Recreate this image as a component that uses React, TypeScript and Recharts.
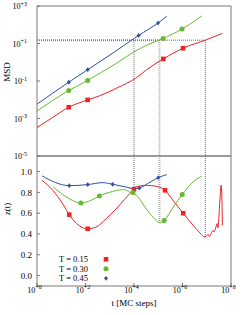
import React from 'react';
import { ComposedChart, Line, Scatter, XAxis, YAxis, ReferenceLine, Label } from 'recharts';

const FONT = '"Liberation Serif", "Times New Roman", serif';
const FRAME = '#787878';
const RED = '#ee2222';
const GREEN = '#66b833';
const BLUE = '#3050a0';

const temps = ['T = 0.15', 'T = 0.30', 'T = 0.45'];
const tTicks = [1, 1e2, 1e4, 1e6, 1e8];
const msdTicks = [1e-5, 1e-3, 1e-1, 1e1, 1e3];
const zTicks = [0, 0.2, 0.4, 0.6, 0.8, 1.0];

// MSD curves (top panel)
const redMsdT = [1, 4.47, 20.4, 123, 398, 1950, 12000, 33100, 162000, 1.05e6, 8.7e6, 4.4e7];
const redMsd = [3.3e-4, 1.15e-3, 4.0e-3, 9.8e-3, 1.66e-2, 4.2e-2, 0.145, 0.4, 1.51, 5.6, 15.1, 34.7];
const greenMsdT = [1, 20.4, 123, 398, 1950, 9333, 33100, 158000, 955000, 6.2e6];
const greenMsd = [2.5e-3, 3.1e-2, 0.107, 0.263, 0.91, 3.39, 8.1, 18.6, 58.9, 295];
const blueMsdT = [1, 20.4, 123, 1000, 15500, 97700, 224000];
const blueMsd = [5.75e-3, 8.7e-2, 0.4, 2.4, 26.9, 123, 282];

// MSD markers
const redMsdPtT = [20.4, 123, 162000, 1.05e6];
const redMsdPt = [4.0e-3, 9.8e-3, 1.51, 5.6];
const greenMsdPtT = [20.4, 123, 158000, 955000];
const greenMsdPt = [3.1e-2, 0.107, 18.6, 58.9];
const blueMsdPtT = [20.4, 123, 15500, 97700];
const blueMsdPt = [8.7e-2, 0.4, 26.9, 123];

// z(t) curves (bottom panel)
const redZT = [1.62, 4.47, 11.5, 21.4, 55, 123, 269, 708, 1820, 3981, 7413, 10000, 11000, 33100, 87100, 190000, 417000, 1.07e6, 2.82e6, 5.25e6, 8.5e6, 1.15e7, 1.26e7, 1.86e7, 2.0e7, 2.75e7, 2.88e7, 3.55e7, 3.89e7, 4.27e7, 4.4e7];
const redZ = [0.916, 0.82, 0.69, 0.586, 0.48, 0.45, 0.466, 0.547, 0.64, 0.73, 0.8, 0.836, 0.85, 0.868, 0.858, 0.82, 0.72, 0.6, 0.48, 0.41, 0.37, 0.396, 0.375, 0.435, 0.42, 0.5, 0.46, 0.755, 0.87, 0.69, 0.48];
const greenZT = [4.68, 21.4, 64.6, 170, 372, 1318, 3981, 6918, 12900, 28200, 63100, 117000, 174000, 417000, 977000, 2.4e6, 6.17e6];
const greenZ = [0.852, 0.74, 0.698, 0.724, 0.765, 0.81, 0.827, 0.8, 0.77, 0.66, 0.557, 0.509, 0.53, 0.66, 0.78, 0.89, 0.955];
const blueZT = [1.62, 21.4, 123, 513, 1318, 4677, 10200, 16600, 40000, 100000, 224000];
const blueZ = [0.958, 0.865, 0.875, 0.894, 0.878, 0.852, 0.836, 0.842, 0.89, 0.942, 0.971];

// z(t) markers
const redZPtT = [21.4, 123, 10000, 190000, 1.07e6];
const redZPt = [0.586, 0.45, 0.83, 0.82, 0.6];
const greenZPtT = [64.6, 372, 9000, 174000, 977000];
const greenZPt = [0.698, 0.765, 0.8, 0.53, 0.78];
const blueZPtT = [21.4, 123, 1318, 16600, 100000];
const blueZPt = [0.865, 0.875, 0.878, 0.842, 0.942];

// guide lines
const msdLevel = 15.1;
const crossT = [1.0e4, 1.12e5, 8.7e6];
const crossZ = [0.83, 0.51, 0.37];
const zTop = 1.15;
const zBottom = -0.1;

const zip = (ts: number[], vs: number[]) => ts.map((t, i) => ({ t, v: vs[i] }));

const Marker = ({ kind, cx, cy, color }: any) => {
  if (cx == null || cy == null) return null;
  if (kind === 'square') return <rect x={cx - 2.3} y={cy - 2.3} width={4.6} height={4.6} fill={color} />;
  if (kind === 'circle') return <circle cx={cx} cy={cy} r={2.5} fill={color} />;
  return <path d={`M${cx},${cy - 2.4}L${cx + 2},${cy}L${cx},${cy + 2.4}L${cx - 2},${cy}Z`} fill={color} />;
};

const PowTick = ({ x, y, payload, anchor, dx = 0, dy = 0 }: any) => {
  const e = Math.round(Math.log10(payload.value));
  const s = e >= 0 ? `+${e}` : `${e}`;
  return (
    <text x={x + dx} y={y + dy} textAnchor={anchor} fontFamily={FONT} fontSize={8} fill="#000">
      <tspan>10</tspan>
      <tspan dy={-3.5} fontSize={6}>{s}</tspan>
    </text>
  );
};

const NumTick = ({ x, y, payload }: any) => (
  <text x={x} y={y + 3.2} textAnchor="end" fontFamily={FONT} fontSize={9} fill="#000">
    {Number(payload.value).toFixed(1)}
  </text>
);

const VTitle = ({ viewBox, text, shift }: any) => {
  const cx = viewBox.x + 7;
  const cy = viewBox.y + viewBox.height / 2 + shift;
  return (
    <text x={cx} y={cy} transform={`rotate(-90 ${cx} ${cy})`} textAnchor="middle" dominantBaseline="central" fontFamily={FONT} fontSize={9} fill="#000">
      {text}
    </text>
  );
};

const HTitle = ({ viewBox, text }: any) => (
  <text x={viewBox.x + viewBox.width / 2} y={viewBox.y + 20} textAnchor="middle" fontFamily={FONT} fontSize={9} fill="#000">
    {text}
  </text>
);

const kinds = ['square', 'circle', 'diamond'];
const colors = [RED, GREEN, BLUE];

const LegendBox = () => (
  <svg width={64} height={30} style={{ display: 'block' }}>
    {temps.map((name, i) => (
      <g key={name}>
        <text x={38} y={5.3 + i * 9.5 + 3} textAnchor="end" fontFamily={FONT} fontSize={8.5} fill="#000">{name}</text>
        <Marker kind={kinds[i]} cx={56} cy={5.3 + i * 9.5} color={colors[i]} />
      </g>
    ))}
  </svg>
);

const dotted = { stroke: '#444', strokeWidth: 0.8, strokeDasharray: '1 1' };
const grayDotted = { stroke: '#b0b0b0', strokeWidth: 2, strokeDasharray: '1 1' };

export default function App() {
  return (
    <div style={{ position: 'absolute', left: 0, top: 0, width: 241, height: 315, background: '#fff' }}>
      <div style={{ position: 'absolute', left: 0, top: 0 }}>
        <ComposedChart width={241} height={170} margin={{ top: 5, right: 0, bottom: 13, left: 0 }}>
          <XAxis dataKey="t" type="number" scale="log" domain={[1, 1e8]} allowDataOverflow ticks={tTicks} interval={0} minTickGap={-30} height={1} tick={false} tickSize={-3} stroke={FRAME} />
          <XAxis xAxisId="top" orientation="top" type="number" scale="log" domain={[1, 1e8]} allowDataOverflow ticks={tTicks} interval={0} minTickGap={-30} height={1} tick={false} tickSize={-3} stroke={FRAME} />
          <YAxis yAxisId="m" type="number" scale="log" domain={[1e-5, 1e3]} allowDataOverflow ticks={msdTicks} interval={0} minTickGap={-30} fontSize={8} width={37} stroke={FRAME} tickSize={-3} tickMargin={13} tick={<PowTick anchor="end" dy={3} />}>
            <Label content={<VTitle text="MSD" shift={-9} />} />
          </YAxis>
          <YAxis yAxisId="r" orientation="right" type="number" scale="log" domain={[1e-5, 1e3]} allowDataOverflow ticks={msdTicks} interval={0} minTickGap={-30} width={10} stroke={FRAME} tickSize={-3} tick={false} />
          <ReferenceLine yAxisId="m" segment={[{ x: 1, y: msdLevel }, { x: crossT[1], y: msdLevel }]} {...grayDotted} />
          <ReferenceLine yAxisId="m" segment={[{ x: crossT[1], y: msdLevel }, { x: crossT[1], y: 1e-5 }]} {...grayDotted} />
          <ReferenceLine yAxisId="m" segment={[{ x: 1, y: msdLevel }, { x: crossT[2], y: msdLevel }]} {...dotted} />
          <ReferenceLine yAxisId="m" segment={[{ x: crossT[0], y: msdLevel }, { x: crossT[0], y: 1e-5 }]} {...dotted} />
          <ReferenceLine yAxisId="m" segment={[{ x: crossT[2], y: msdLevel }, { x: crossT[2], y: 1e-5 }]} {...dotted} />
          <Line yAxisId="m" data={zip(redMsdT, redMsd)} dataKey="v" type="monotone" stroke={RED} strokeWidth={1} dot={false} isAnimationActive={false} />
          <Line yAxisId="m" data={zip(greenMsdT, greenMsd)} dataKey="v" type="monotone" stroke={GREEN} strokeWidth={1} dot={false} isAnimationActive={false} />
          <Line yAxisId="m" data={zip(blueMsdT, blueMsd)} dataKey="v" type="monotone" stroke={BLUE} strokeWidth={1} dot={false} isAnimationActive={false} />
          <Scatter yAxisId="m" data={zip(redMsdPtT, redMsdPt)} dataKey="v" isAnimationActive={false} shape={(p: any) => <Marker kind="square" cx={p.cx} cy={p.cy} color={RED} />} />
          <Scatter yAxisId="m" data={zip(greenMsdPtT, greenMsdPt)} dataKey="v" isAnimationActive={false} shape={(p: any) => <Marker kind="circle" cx={p.cx} cy={p.cy} color={GREEN} />} />
          <Scatter yAxisId="m" data={zip(blueMsdPtT, blueMsdPt)} dataKey="v" isAnimationActive={false} shape={(p: any) => <Marker kind="diamond" cx={p.cx} cy={p.cy} color={BLUE} />} />
        </ComposedChart>
      </div>
      <div style={{ position: 'absolute', left: 0, top: 150 }}>
        <ComposedChart width={241} height={165} margin={{ top: 5, right: 0, bottom: 0, left: 0 }}>
          <XAxis dataKey="t" type="number" scale="log" domain={[1, 1e8]} allowDataOverflow ticks={tTicks} interval={0} minTickGap={-30} fontSize={8} height={29} stroke={FRAME} tickSize={-3} tickMargin={6} tick={<PowTick anchor="middle" dx={-2.5} dy={3.5} />}>
            <Label content={<HTitle text="t [MC steps]" />} />
          </XAxis>
          <XAxis xAxisId="top" orientation="top" type="number" scale="log" domain={[1, 1e8]} allowDataOverflow ticks={tTicks} interval={0} minTickGap={-30} height={1} tick={false} tickSize={-3} stroke={FRAME} />
          <YAxis yAxisId="z" type="number" domain={[zBottom, zTop]} allowDataOverflow ticks={zTicks} interval={0} minTickGap={-30} fontSize={9} width={37} stroke={FRAME} tickSize={-3} tickMargin={8} tick={<NumTick />}>
            <Label content={<VTitle text="z(t)" shift={-12} />} />
          </YAxis>
          <YAxis yAxisId="r" orientation="right" type="number" domain={[zBottom, zTop]} allowDataOverflow ticks={zTicks} interval={0} minTickGap={-30} width={10} stroke={FRAME} tickSize={-3} tick={false} />
          <ReferenceLine yAxisId="z" segment={[{ x: crossT[1], y: zTop }, { x: crossT[1], y: crossZ[1] }]} {...grayDotted} />
          <ReferenceLine yAxisId="z" segment={[{ x: crossT[0], y: zTop }, { x: crossT[0], y: crossZ[0] }]} {...dotted} />
          <ReferenceLine yAxisId="z" segment={[{ x: crossT[2], y: zTop }, { x: crossT[2], y: crossZ[2] }]} {...dotted} />
          <Line yAxisId="z" data={zip(redZT, redZ)} dataKey="v" type="monotone" stroke={RED} strokeWidth={1} dot={false} isAnimationActive={false} />
          <Line yAxisId="z" data={zip(greenZT, greenZ)} dataKey="v" type="monotone" stroke={GREEN} strokeWidth={1} dot={false} isAnimationActive={false} />
          <Line yAxisId="z" data={zip(blueZT, blueZ)} dataKey="v" type="monotone" stroke={BLUE} strokeWidth={1} dot={false} isAnimationActive={false} />
          <Scatter yAxisId="z" data={zip(redZPtT, redZPt)} dataKey="v" isAnimationActive={false} shape={(p: any) => <Marker kind="square" cx={p.cx} cy={p.cy} color={RED} />} />
          <Scatter yAxisId="z" data={zip(greenZPtT, greenZPt)} dataKey="v" isAnimationActive={false} shape={(p: any) => <Marker kind="circle" cx={p.cx} cy={p.cy} color={GREEN} />} />
          <Scatter yAxisId="z" data={zip(blueZPtT, blueZPt)} dataKey="v" isAnimationActive={false} shape={(p: any) => <Marker kind="diamond" cx={p.cx} cy={p.cy} color={BLUE} />} />
        </ComposedChart>
      </div>
      <div style={{ position: 'absolute', left: 50, top: 254 }}>
        <LegendBox />
      </div>
    </div>
  );
}
